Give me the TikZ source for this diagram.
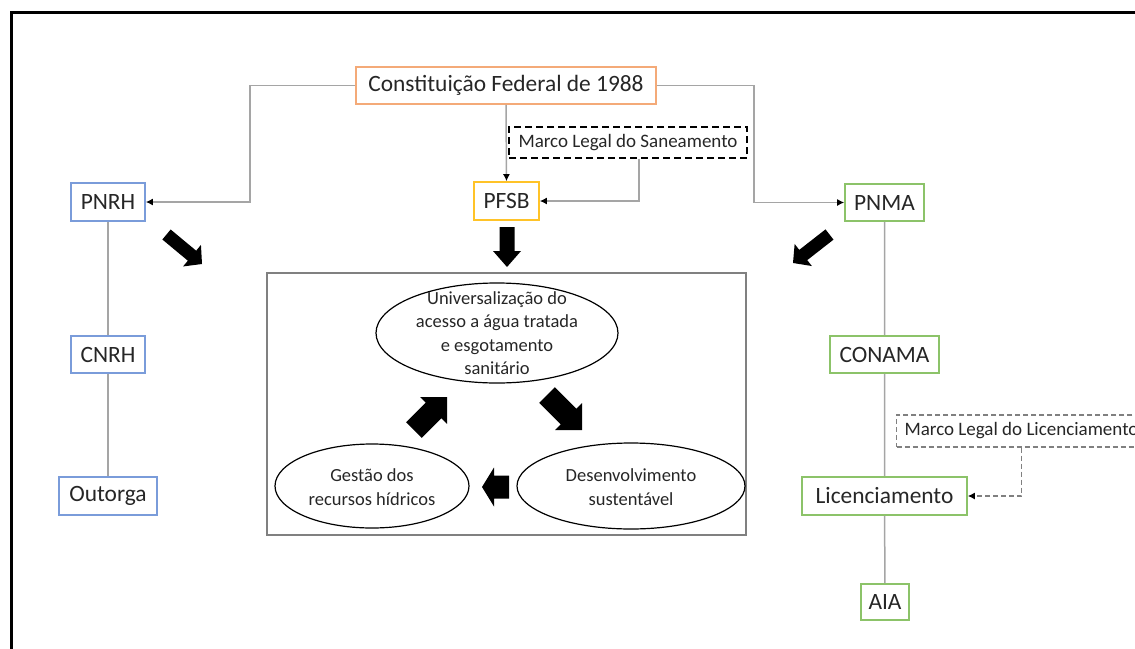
\documentclass[tikz,border=0pt]{standalone}
\usepackage{fontspec}
\setmainfont{Carlito}
\usetikzlibrary{calc,arrows.meta,shapes.geometric}
\definecolor{borange}{RGB}{244,170,120}
\definecolor{bblue}{RGB}{122,156,218}
\definecolor{bgreen}{RGB}{140,195,105}
\definecolor{byellow}{RGB}{255,195,40}
\definecolor{txt}{RGB}{38,38,38}
\definecolor{conngray}{RGB}{165,165,165}
\newcommand{\fatarrow}[5]{%
  \path (#1) coordinate (fas) (#2) coordinate (fat);
  \path ($(fat)!#5pt!(fas)$) coordinate (fah);
  \fill[black] ($(fas)!#3pt!90:(fat)$) -- ($(fah)!#3pt!90:(fat)$) -- ($(fah)!#4pt!90:(fat)$) -- (fat)
    -- ($(fah)!#4pt!-90:(fat)$) -- ($(fah)!#3pt!-90:(fat)$) -- ($(fas)!#3pt!-90:(fat)$) -- cycle;}
\tikzset{
  box/.style={draw, rectangle, line width=1.6pt, inner sep=0pt, text=txt, font=\fontsize{23.4}{27}\selectfont},
  mbox/.style={draw, rectangle, inner sep=0pt, text=txt, font=\fontsize{19}{23}\selectfont},
  conn/.style={draw=conngray, line width=1.5pt},
  arr/.style={-{Latex[length=7pt,width=7pt,black]}},
  etext/.style={align=center, inner sep=0pt, text=txt, font=\fontsize{18.5}{23.5}\selectfont},
  eline/.style={draw=black, line width=1.2pt}
}
\begin{document}
\begin{tikzpicture}[x=1pt,y=-1pt]
\useasboundingbox (0,0) rectangle (1135,648);
\clip (0,0) rectangle (1135,648);
\draw[line width=3pt] (11,12) rectangle (1170,690);

% boxes
\node[box,draw=borange,minimum width=300pt,minimum height=37pt] (const) at (506,85.5) {Constituição Federal de 1988};
\node[box,draw=bblue,minimum width=74pt,minimum height=38pt] (pnrh) at (108,202) {PNRH};
\node[box,draw=bblue,minimum width=74pt,minimum height=37pt] (cnrh) at (108,354.5) {CNRH};
\node[box,draw=bblue,minimum width=98pt,minimum height=38pt] (outorga) at (108,496) {Outorga};
\node[box,draw=byellow,minimum width=65pt,minimum height=38pt] (pfsb) at (506.5,201) {PFSB};
\node[mbox,draw=black,line width=1.5pt,dash pattern=on 7pt off 4pt,minimum width=238pt,minimum height=31pt] (mls) at (628,142.5) {Marco Legal do Saneamento};
\node[box,draw=bgreen,minimum width=79pt,minimum height=37pt] (pnma) at (884.5,202.5) {PNMA};
\node[box,draw=bgreen,minimum width=109pt,minimum height=37pt] (conama) at (884.5,354.5) {CONAMA};
\node[box,draw=bgreen,minimum width=165pt,minimum height=38pt] (lic) at (884.5,496) {Licenciamento};
\node[mbox,draw=gray,line width=1.1pt,dash pattern=on 5pt off 3pt,anchor=west,inner xsep=8pt,minimum height=32pt] (mll) at (896,431) {Marco Legal do Licenciamento};
\node[box,draw=bgreen,minimum width=48pt,minimum height=36pt] (aia) at (885,602) {AIA};

% connectors
\draw[conn,arr] (const.west) -- ++(-105,0) |- (pnrh.east);
\draw[conn,arr] (const.east) -- ++(97,0) |- (pnma.west);
\draw[conn,arr] (const.south) -- (pfsb.north);
\draw[conn,arr] ([xshift=11pt]mls.south) |- (pfsb.east);
\draw[conn] (pnrh) -- (cnrh) -- (outorga);
\draw[conn] (pnma) -- (conama) -- (lic) -- (aia);
\draw[draw=gray,line width=1.3pt,dash pattern=on 5pt off 3pt,arr] (mll.south) |- (lic.east);

% central panel
\node[draw=gray,line width=1.3pt,rectangle,inner sep=0pt,minimum width=479pt,minimum height=262pt] (panel) at (506.5,404) {};
\node[etext] (univ) at (497,333) {Universalização do\\acesso a água tratada\\e esgotamento\\sanitário};
\draw[eline] (univ.center) ellipse [x radius=121, y radius=50];
\node[etext] (gest) at (372,487) {Gestão dos\\recursos hídricos};
\draw[eline] (372,486) ellipse [x radius=97, y radius=42];
\node[etext] (desv) at (631,487) {Desenvolvimento\\sustentável};
\draw[eline] (631,486) ellipse [x radius=114, y radius=43];

% block arrows
\fatarrow{507,227}{507,267}{7.5}{14}{16}
\fatarrow{166.5,234.5}{202,264}{6.5}{14}{13}
\fatarrow{829.5,234.5}{793,263}{6.5}{14}{13}
\fatarrow{547,395}{582,430}{11}{19}{19}
\fatarrow{509,487}{482,487}{11.5}{19.5}{12}
\fatarrow{414,430}{447,397}{11}{19}{19}
\end{tikzpicture}
\end{document}
